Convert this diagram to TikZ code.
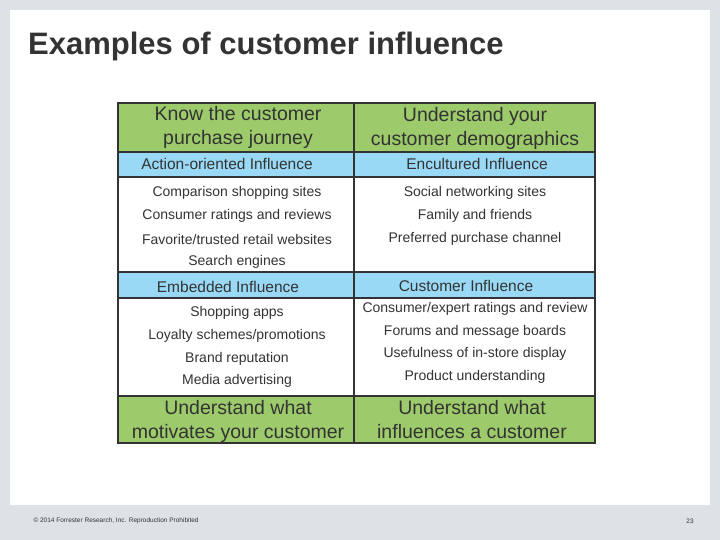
\documentclass[tikz,border=0pt]{standalone}
\usepackage{fontspec}
\setmainfont{Liberation Sans}
\definecolor{bg}{HTML}{DDE2E7}
\definecolor{grn}{HTML}{9DCB6B}
\definecolor{blu}{HTML}{99D9F5}
\definecolor{txt}{HTML}{333333}
\begin{document}
\begin{tikzpicture}[x=1pt,y=-1pt,
  cell/.style={draw=black!80,line width=1.2pt},
  hd/.style={font=\fontsize{19.5}{24}\selectfont,text=txt,align=center},
  sub/.style={font=\fontsize{15.5}{17}\selectfont,text=txt},
  it/.style={font=\fontsize{14}{16}\selectfont,text=txt}]
\useasboundingbox (0,0) rectangle (720,540);
\fill[bg] (0,0) rectangle (720,540);
\fill[white] (10,10) rectangle (710,505);
\node[anchor=west,font=\bfseries\fontsize{31}{33}\selectfont,text=txt,inner sep=0pt] (title) at (28,46) {Examples of customer influence};
% left column
\filldraw[cell,fill=grn] (118,103) rectangle (354,152);
\filldraw[cell,fill=blu] (118,152) rectangle (354,177);
\filldraw[cell,fill=white] (118,177) rectangle (354,272);
\filldraw[cell,fill=blu] (118,272) rectangle (354,298);
\filldraw[cell,fill=white] (118,298) rectangle (354,396);
\filldraw[cell,fill=grn] (118,396) rectangle (354,443);
% right column
\filldraw[cell,fill=grn] (354,103) rectangle (595,152);
\filldraw[cell,fill=blu] (354,152) rectangle (595,177);
\filldraw[cell,fill=white] (354,177) rectangle (595,272);
\filldraw[cell,fill=blu] (354,272) rectangle (595,298);
\filldraw[cell,fill=white] (354,298) rectangle (595,396);
\filldraw[cell,fill=grn] (354,396) rectangle (595,443);
\node[hd] (h1) at (238,127) {Know the customer\\purchase journey};
\node[hd] (h2) at (475,128) {Understand your\\customer demographics};
\node[sub] (s1) at (227,164) {Action-oriented Influence};
\node[sub] (s2) at (477,164) {Encultured  Influence};
\node[it] (a1) at (237,193) {Comparison shopping sites};
\node[it] (a2) at (237,216) {Consumer ratings and reviews};
\node[it] (a3) at (237,239) {Favorite/trusted retail websites};
\node[it] (a4) at (237,262) {Search engines};
\node[it] (b1) at (475,193) {Social networking sites};
\node[it] (b2) at (475,216) {Family and friends};
\node[it] (b3) at (475,239) {Preferred purchase channel};
\node[sub] (s3) at (228,287) {Embedded  Influence};
\node[sub] (s4) at (466,286) {Customer  Influence};
\node[it] (c1) at (237,313) {Shopping apps};
\node[it] (c2) at (237,336) {Loyalty schemes/promotions};
\node[it] (c3) at (237,359) {Brand reputation};
\node[it] (c4) at (237,381) {Media advertising};
\node[it] (d1) at (475,309) {Consumer/expert ratings and review};
\node[it] (d2) at (475,332) {Forums and message boards};
\node[it] (d3) at (475,354) {Usefulness of in-store display};
\node[it] (d4) at (475,377) {Product understanding};
\node[hd] (f1) at (238,421) {Understand what\\motivates your customer};
\node[hd] (f2) at (472,420) {Understand what\\influences a customer};
\node[anchor=west,font=\fontsize{6.5}{7}\selectfont,text=txt] (copy) at (30,521) {© 2014 Forrester Research, Inc. Reproduction Prohibited};
\node[font=\fontsize{6.5}{7}\selectfont,text=txt] (pg) at (690,521) {23};
\end{tikzpicture}
\end{document}
